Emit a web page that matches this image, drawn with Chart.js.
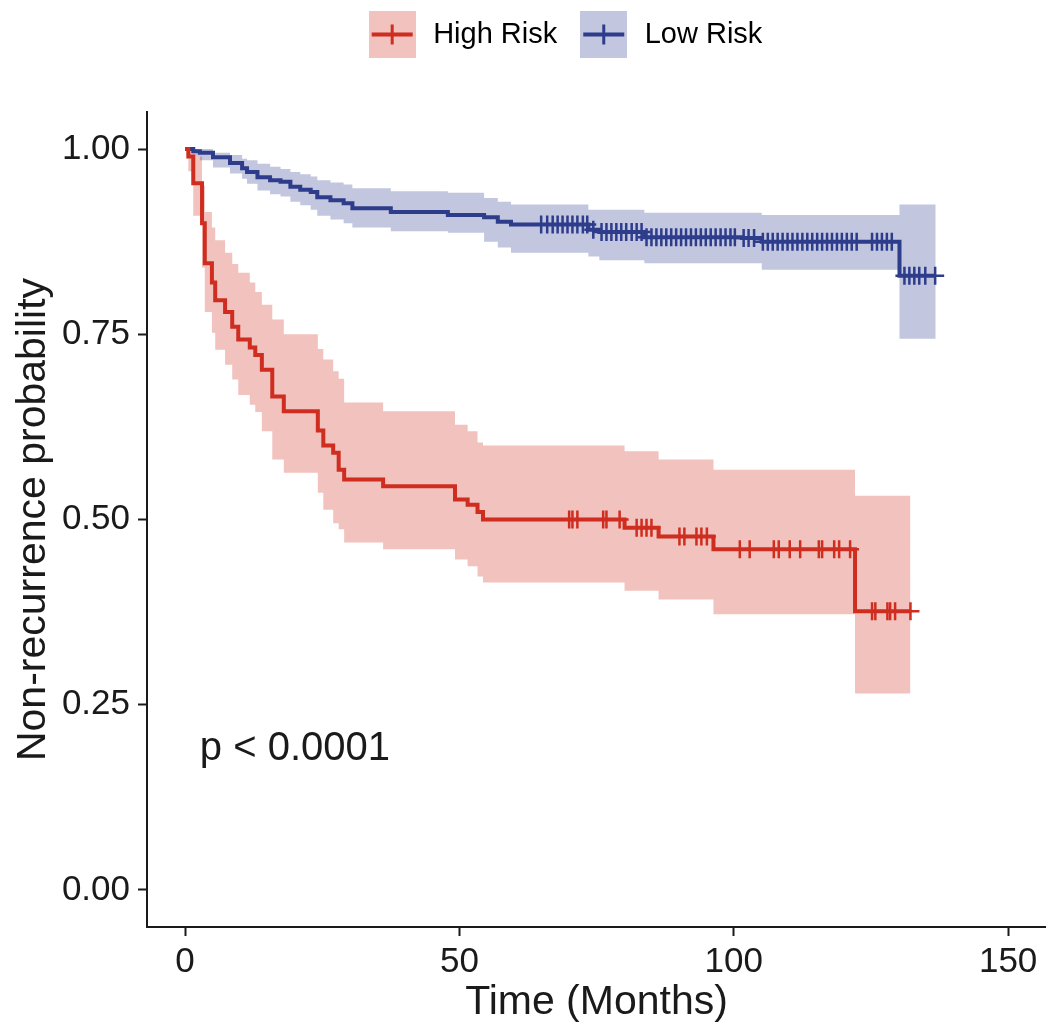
<!DOCTYPE html>
<html>
<head>
<meta charset="utf-8">
<script src="https://cdn.jsdelivr.net/npm/chart.js@4.4.1/dist/chart.umd.min.js"></script>
<style>
  html, body { margin: 0; padding: 0; background: #fff; }
</style>
</head>
<body>
<canvas id="chart" width="1046" height="1032"></canvas>
<script>
// High Risk: step times (months), KM estimate, 95% CI bounds
const highTime  = [0, 0.6, 1.5, 3.1, 3.6, 4.9, 5.5, 7.3, 8.6, 9.7, 11.8, 12.8, 14.0, 15.9, 18.0, 24.2, 25.2, 27.0, 28.0, 29.0, 36.1, 49.2, 51.5, 53.3, 54.3, 80.1, 86.3, 96.3, 122.1];
const highSurv  = [1.000, 0.990, 0.954, 0.900, 0.846, 0.820, 0.796, 0.780, 0.760, 0.743, 0.732, 0.722, 0.702, 0.666, 0.646, 0.620, 0.600, 0.590, 0.567, 0.554, 0.545, 0.527, 0.520, 0.510, 0.500, 0.489, 0.477, 0.460, 0.376];
const highUpper = [1.000, 1.000, 0.990, 0.950, 0.915, 0.894, 0.877, 0.860, 0.845, 0.833, 0.820, 0.807, 0.790, 0.770, 0.750, 0.730, 0.716, 0.700, 0.690, 0.658, 0.646, 0.628, 0.619, 0.604, 0.600, 0.592, 0.581, 0.567, 0.532];
const highLower = [1.000, 0.970, 0.910, 0.840, 0.780, 0.752, 0.729, 0.709, 0.689, 0.668, 0.655, 0.645, 0.619, 0.581, 0.563, 0.536, 0.513, 0.495, 0.487, 0.469, 0.460, 0.446, 0.437, 0.423, 0.415, 0.404, 0.392, 0.372, 0.265];
const highCensor = [70.0, 70.6, 71.5, 76.2, 76.8, 79.2, 82.3, 83.2, 84.1, 85.0, 90.1, 91.0, 93.2, 94.1, 95.1,
  101.1, 102.9, 107.3, 108.2, 110.2, 112.1, 115.5, 116.1, 118.3, 119.2, 121.2, 125.2, 125.8, 128.0, 128.5, 129.4, 132.2];
const highEnd = 132.2;

// Low Risk
const lowTime  = [0, 1.5, 2.7, 5.1, 8.2, 10.4, 11.3, 13.2, 15.5, 17.4, 19.2, 21.0, 22.9, 24.1, 26.5, 28.9, 30.5, 37.5, 47.9, 54.5, 57.0, 59.4, 73.5, 75.5, 83.7, 101.5, 105.1, 130.2];
const lowSurv  = [1.000, 0.997, 0.995, 0.989, 0.981, 0.974, 0.969, 0.962, 0.958, 0.956, 0.949, 0.945, 0.942, 0.935, 0.931, 0.927, 0.920, 0.915, 0.911, 0.908, 0.902, 0.898, 0.891, 0.888, 0.881, 0.880, 0.875, 0.829];
const lowUpper = [1.000, 1.000, 1.000, 0.995, 0.992, 0.987, 0.985, 0.980, 0.976, 0.973, 0.969, 0.966, 0.963, 0.958, 0.955, 0.952, 0.947, 0.943, 0.941, 0.934, 0.929, 0.925, 0.918, 0.918, 0.914, 0.914, 0.911, 0.925];
const lowLower = [1.000, 0.990, 0.985, 0.975, 0.967, 0.960, 0.953, 0.944, 0.939, 0.936, 0.929, 0.924, 0.918, 0.910, 0.905, 0.900, 0.894, 0.889, 0.887, 0.875, 0.867, 0.860, 0.855, 0.850, 0.846, 0.846, 0.837, 0.744];
const lowCensor = [64.9, 66.0, 67.0, 67.9, 68.8, 69.7, 70.6, 71.5, 72.5, 73.3,
  74.4, 75.9, 76.8, 77.7, 78.6, 79.5, 80.4, 81.4, 82.3, 83.2,
  84.1, 85.0, 85.9, 86.8, 87.7, 88.6, 89.5, 90.4, 91.3, 92.2, 93.1, 94.0, 94.9, 95.8, 96.7, 97.6, 98.5, 99.4, 100.2,
  101.8, 102.7, 103.7,
  105.3, 106.2, 107.1, 108.0, 108.9, 109.8, 110.7, 111.6, 112.5, 113.4, 114.3, 115.2, 116.1, 117.0, 117.9, 118.8, 119.7, 120.6, 121.5, 122.4,
  125.2, 126.1, 127.0, 127.9, 128.8,
  131.1, 132.0, 132.9, 133.8, 134.9, 136.7];
const lowEnd = 136.8;

const groupNames = ['High Risk', 'Low Risk'];
const xTicks = [0, 50, 100, 150];
const yTicks = [0, 0.25, 0.5, 0.75, 1];
const pText = 'p < 0.0001';

const lineColors = ['#CE2D1F', '#2E3C8C'];
const bandColors = ['rgba(206, 45, 31, 0.29)', 'rgba(46, 60, 140, 0.29)'];
const FONT = '"Liberation Sans", Arial, Helvetica, sans-serif';
const INK = '#1a1a1a';

function stepPoints(times, values, end) {
    const pts = times.map((t, i) => ({x: t, y: values[i]}));
    pts.push({x: end, y: values[values.length - 1]});
    return pts;
}

function survAt(times, surv, t) {
    let s = surv[0];
    for (let i = 0; i < times.length; i++) {
        if (times[i] <= t) s = surv[i];
    }
    return s;
}

function legendIcon(line, band) {
    const c = document.createElement('canvas');
    c.width = 47; c.height = 47;
    const g = c.getContext('2d');
    g.fillStyle = band;
    g.fillRect(0, 0, 47, 47);
    g.strokeStyle = line;
    g.lineWidth = 4;
    g.beginPath();
    g.moveTo(3, 23.5); g.lineTo(44, 23.5);
    g.stroke();
    g.lineWidth = 3;
    g.beginPath();
    g.moveTo(23.5, 13.5); g.lineTo(23.5, 33.5);
    g.stroke();
    return c;
}

function lineSet(label, pts, color) {
    return { label, data: pts, borderColor: color, borderWidth: 4, pointRadius: 0,
             stepped: 'before', fill: false };
}
function censorSet(label, times, stepT, stepS, color) {
    return { label, data: times.map(t => ({x: t, y: survAt(stepT, stepS, t)})),
             showLine: false, pointStyle: 'cross', pointRadius: 9, borderWidth: 2.5,
             borderColor: color, backgroundColor: color };
}
function bandSet(label, pts, color, target) {
    return { label, data: pts, borderWidth: 0, pointRadius: 0, stepped: 'before',
             borderColor: 'rgba(0,0,0,0)', backgroundColor: color,
             fill: target === null ? false : {target: target, above: color, below: color} };
}

const legendShift = 41;

const layoutPlugin = {
    id: 'kmLayout',
    beforeInit(chart) {
        const fit = chart.legend.fit;
        chart.legend.fit = function () {
            fit.call(this);
            this.height = 112;
        };
    },
    afterLayout(chart) {
        chart.legend.left += legendShift;
        chart.legend.right += legendShift;
    },
    afterDatasetsDraw(chart) {
        const ctx = chart.ctx;
        ctx.save();
        ctx.font = '40px ' + FONT;
        ctx.fillStyle = INK;
        ctx.textAlign = 'left';
        ctx.textBaseline = 'middle';
        ctx.fillText(pText, chart.scales.x.getPixelForValue(2.7), chart.scales.y.getPixelForValue(0.19));
        ctx.restore();
    }
};

const ctx = document.getElementById('chart').getContext('2d');
new Chart(ctx, {
    type: 'line',
    data: {
        datasets: [
            lineSet(groupNames[0], stepPoints(highTime, highSurv, highEnd), lineColors[0]),
            lineSet(groupNames[1], stepPoints(lowTime, lowSurv, lowEnd), lineColors[1]),
            censorSet('high censor', highCensor, highTime, highSurv, lineColors[0]),
            censorSet('low censor', lowCensor, lowTime, lowSurv, lineColors[1]),
            bandSet('high upper', stepPoints(highTime, highUpper, highEnd), bandColors[0], 5),
            bandSet('high lower', stepPoints(highTime, highLower, highEnd), bandColors[0], null),
            bandSet('low upper', stepPoints(lowTime, lowUpper, lowEnd), bandColors[1], 7),
            bandSet('low lower', stepPoints(lowTime, lowLower, lowEnd), bandColors[1], null)
        ]
    },
    options: {
        responsive: false,
        animation: false,
        events: [],
        devicePixelRatio: 1,
        layout: { padding: 0, autoPadding: false },
        plugins: {
            tooltip: { enabled: false },
            legend: {
                position: 'top',
                align: 'center',
                labels: {
                    usePointStyle: true,
                    pointStyleWidth: 53,
                    padding: 20,
                    color: INK,
                    font: { family: FONT, size: 29 },
                    generateLabels: () => groupNames.map((name, i) => ({
                        text: name,
                        pointStyle: legendIcon(lineColors[i], bandColors[i]),
                        fillStyle: bandColors[i],
                        strokeStyle: lineColors[i],
                        lineWidth: 0,
                        hidden: false,
                        datasetIndex: i
                    }))
                }
            }
        },
        scales: {
            x: {
                type: 'linear',
                min: -6.93,
                max: 156.9,
                afterFit: s => { s.height = 105; s.paddingLeft = 0; s.paddingRight = 0; },
                afterBuildTicks: s => { s.ticks = xTicks.map(v => ({value: v})); },
                grid: { drawOnChartArea: false, drawTicks: true, tickLength: 9, tickWidth: 2, color: INK },
                border: { display: true, color: INK, width: 2 },
                ticks: { color: INK, padding: 5, maxRotation: 0, font: { family: FONT, size: 35 } },
                title: { display: true, text: 'Time (Months)', color: INK,
                         font: { family: FONT, size: 41 }, padding: { top: 0, bottom: 5 } }
            },
            y: {
                type: 'linear',
                min: -0.05,
                max: 1.05,
                afterFit: s => { s.width = 147; s.paddingTop = 0; s.paddingBottom = 0; },
                afterBuildTicks: s => { s.ticks = yTicks.map(v => ({value: v})); },
                grid: { drawOnChartArea: false, drawTicks: true, tickLength: 9, tickWidth: 2, color: INK },
                border: { display: true, color: INK, width: 2 },
                ticks: { color: INK, padding: 8, font: { family: FONT, size: 35 },
                         callback: v => Number(v).toFixed(2) },
                title: { display: true, text: 'Non-recurrence probability', color: INK,
                         font: { family: FONT, size: 41 }, padding: { top: 9, bottom: 0 } }
            }
        }
    },
    plugins: [layoutPlugin]
});
</script>
</body>
</html>
